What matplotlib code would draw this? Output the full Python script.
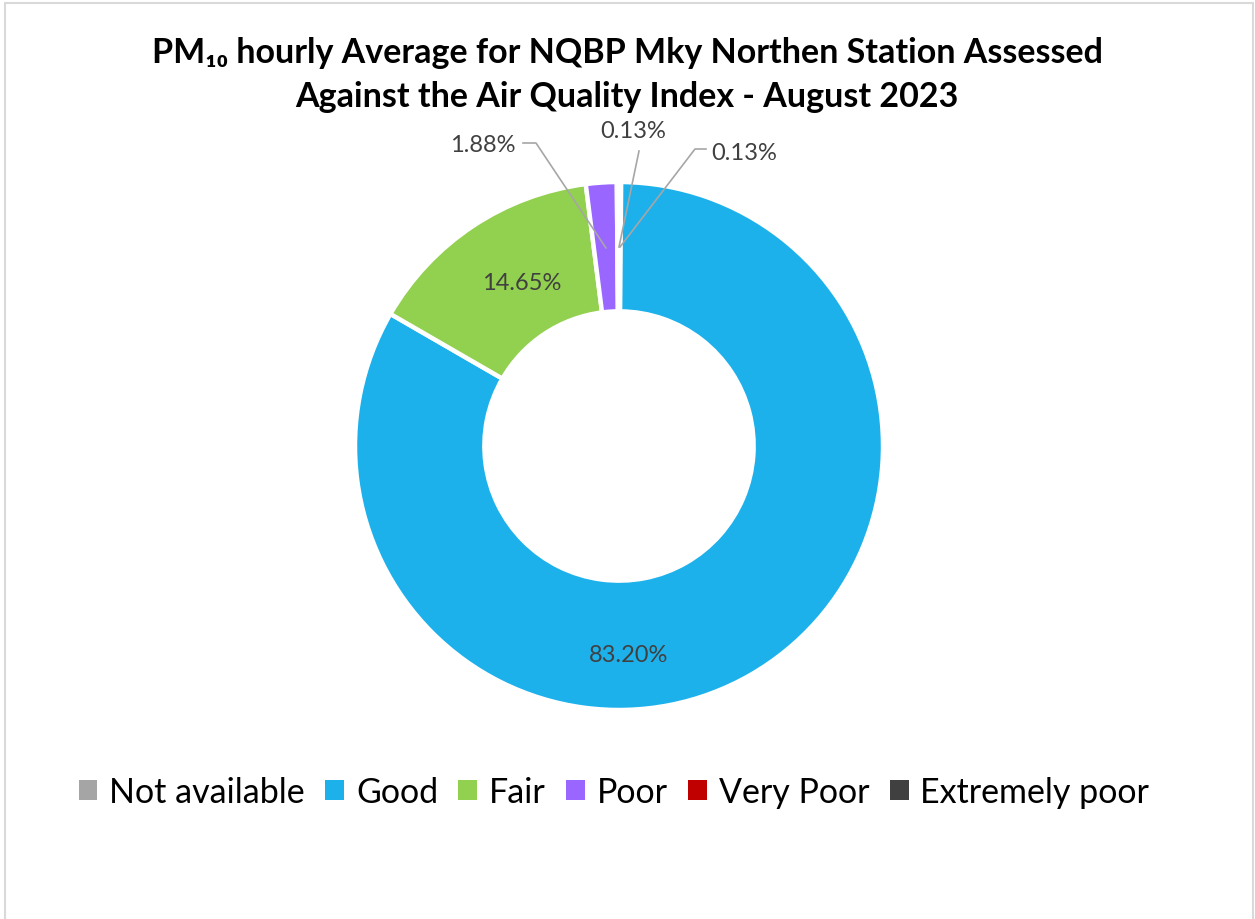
import matplotlib
matplotlib.use("Agg")
import matplotlib.pyplot as plt
from matplotlib.patches import Patch, Rectangle
import numpy as np

categories = ["Not available", "Good", "Fair", "Poor", "Very Poor", "Extremely poor"]
values = [0.13, 83.20, 14.65, 1.88, 0.13, 0.0]
colors = ["#A5A5A5", "#1DB1EC", "#92D050", "#9966FF", "#C00000", "#404040"]
title = "PM\u2081\u2080 hourly Average for NQBP Mky Northen Station Assessed\nAgainst the Air Quality Index - August 2023"

W, H = 1255, 920
fig = plt.figure(figsize=(W / 100, H / 100), dpi=100)
ax = fig.add_axes([0, 0, 1, 1])
ax.set_xlim(0, W)
ax.set_ylim(0, H)
ax.set_aspect("equal")
ax.axis("off")

# chart border
fig.patches.append(Rectangle((5 / W, -0.01), (1253 - 5) / W, (H - 4) / H + 0.01,
                             transform=fig.transFigure, fill=False,
                             edgecolor="#D9D9D9", linewidth=1.5))

cx, cy = 619, H - 447
R = 264
width = 0.49
wedges, _ = ax.pie(values, colors=colors, startangle=90, counterclock=False,
                   radius=R, center=(cx, cy),
                   wedgeprops=dict(width=R * width, edgecolor="white", linewidth=3.2))
ax.set_xlim(0, W)
ax.set_ylim(0, H)

label_color = "#404040"
fam = ["Lato", "DejaVu Sans"]
lfs = 17

# inside labels
for i, (px, py) in [(1, (629, 655)), (2, (522, 284))]:
    ax.text(px, H - py, f"{values[i]:.2f}%", ha="center", va="center",
            fontsize=lfs, color=label_color, family=fam)

# outside labels with leader lines
lc = "#A6A6A6"
# Poor
ax.plot([523, 536, 606], [H - 144, H - 144, H - 249], color=lc, lw=1.2)
ax.text(516, H - 146, f"{values[3]:.2f}%", ha="right", va="center",
        fontsize=lfs, color=label_color, family=fam)
# Not available
ax.plot([639, 619], [H - 152, H - 248], color=lc, lw=1.2)
ax.text(633, H - 131, f"{values[0]:.2f}%", ha="center", va="center",
        fontsize=lfs, color=label_color, family=fam)
# Very Poor
ax.plot([706, 695, 620], [H - 150, H - 150, H - 248], color=lc, lw=1.2)
ax.text(711, H - 153, f"{values[4]:.2f}%", ha="left", va="center",
        fontsize=lfs, color=label_color, family=fam)

fig.text(627 / W, 1 - 75 / H, title, ha="center", va="center",
         fontsize=24.5, fontweight="bold", family=fam, linespacing=1.45, color="black")

handles = [Patch(facecolor=c, edgecolor="none") for c in colors]
fig.legend(handles, categories, loc="center", bbox_to_anchor=(614 / W, 1 - 793 / H),
           ncol=6, frameon=False, prop=dict(family=fam, size=24.5),
           handlelength=0.55, handleheight=0.55, handletextpad=0.35, columnspacing=0.6)

fig.savefig("out.png", dpi=100, facecolor="white")
